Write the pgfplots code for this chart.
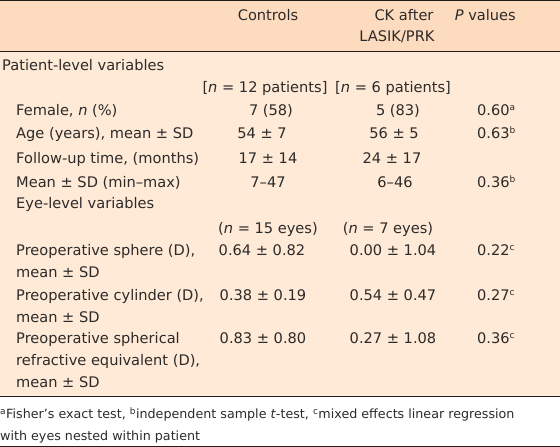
\documentclass[border=0pt]{standalone}
\usepackage{pgfplots}
\pgfplotsset{compat=1.18}
\usepackage{fontspec}
\setmainfont{DejaVu Sans}
\definecolor{headbg}{RGB}{253,219,190}
\definecolor{bodybg}{RGB}{254,234,214}
\definecolor{rulec}{RGB}{35,28,28}
\definecolor{txt}{RGB}{45,42,42}
\newcommand{\sq}[1]{\textsuperscript{\fontsize{9}{9}\selectfont #1}}
\tikzset{t/.style={inner sep=0pt, yshift=-3pt, text=txt, font=\fontsize{14.6}{17}\selectfont},
         f/.style={inner sep=0pt, yshift=-3pt, text=txt, font=\fontsize{12.7}{15}\selectfont}}
\begin{document}
\begin{tikzpicture}
\begin{axis}[
  scale only axis, width=560pt, height=447pt,
  xmin=0, xmax=560, ymin=0, ymax=447, y dir=reverse,
  hide axis,
]
% backgrounds
\addplot[fill=white, draw=none] coordinates {(0,0)(560,0)(560,447)(0,447)} -- cycle;
\addplot[fill=headbg, draw=none] coordinates {(0,0)(560,0)(560,51)(0,51)} -- cycle;
\addplot[fill=bodybg, draw=none] coordinates {(0,51)(560,51)(560,396)(0,396)} -- cycle;
% rules
\addplot[draw=rulec, line width=1.3pt] coordinates {(0,0.7)(560,0.7)};
\addplot[draw=rulec, line width=1.0pt] coordinates {(0,51)(560,51)};
\addplot[draw=rulec, line width=1.0pt] coordinates {(0,396)(560,396)};
\addplot[draw=rulec, line width=1.0pt] coordinates {(0,446)(560,446)};
% header
\node[t,anchor=mid] at (axis cs:268,15) {Controls};
\node[t,anchor=mid] at (axis cs:404,15) {CK after};
\node[t,anchor=mid] at (axis cs:397,36) {LASIK/PRK};
\node[t,anchor=mid east] at (axis cs:516,15) {\textit{P} values};
% patient-level
\node[t,anchor=mid west] at (axis cs:2,65) {Patient-level variables};
\node[t,anchor=mid] at (axis cs:265,87) {[\textit{n} = 12 patients]};
\node[t,anchor=mid] at (axis cs:393,87) {[\textit{n} = 6 patients]};
\node[t,anchor=mid west] at (axis cs:16,110) {Female, \textit{n} (\%)};
\node[t,anchor=mid] at (axis cs:271,110) {7 (58)};
\node[t,anchor=mid] at (axis cs:398,110) {5 (83)};
\node[t,anchor=mid west] at (axis cs:477,110) {0.60\sq{a}};
\node[t,anchor=mid west] at (axis cs:16,133) {Age (years), mean ± SD};
\node[t,anchor=mid] at (axis cs:262,133) {54 ± 7};
\node[t,anchor=mid] at (axis cs:394,133) {56 ± 5};
\node[t,anchor=mid west] at (axis cs:477,133) {0.63\sq{b}};
\node[t,anchor=mid west] at (axis cs:16,158) {Follow-up time, (months)};
\node[t,anchor=mid] at (axis cs:268,158) {17 ± 14};
\node[t,anchor=mid] at (axis cs:392,158) {24 ± 17};
\node[t,anchor=mid west] at (axis cs:16,182) {Mean ± SD (min–max)};
\node[t,anchor=mid] at (axis cs:268,182) {7–47};
\node[t,anchor=mid] at (axis cs:395,182) {6–46};
\node[t,anchor=mid west] at (axis cs:477,182) {0.36\sq{b}};
% eye-level
\node[t,anchor=mid west] at (axis cs:16,203) {Eye-level variables};
\node[t,anchor=mid] at (axis cs:268,228) {(\textit{n} = 15 eyes)};
\node[t,anchor=mid] at (axis cs:388,228) {(\textit{n} = 7 eyes)};
\node[t,anchor=mid west] at (axis cs:16,250) {Preoperative sphere (D),};
\node[t,anchor=mid west] at (axis cs:16,272) {mean ± SD};
\node[t,anchor=mid] at (axis cs:262,250) {0.64 ± 0.82};
\node[t,anchor=mid] at (axis cs:393,250) {0.00 ± 1.04};
\node[t,anchor=mid west] at (axis cs:477,250) {0.22\sq{c}};
\node[t,anchor=mid west] at (axis cs:16,295) {Preoperative cylinder (D),};
\node[t,anchor=mid west] at (axis cs:16,317) {mean ± SD};
\node[t,anchor=mid] at (axis cs:263,295) {0.38 ± 0.19};
\node[t,anchor=mid] at (axis cs:393,295) {0.54 ± 0.47};
\node[t,anchor=mid west] at (axis cs:477,295) {0.27\sq{c}};
\node[t,anchor=mid west] at (axis cs:16,338) {Preoperative spherical};
\node[t,anchor=mid west] at (axis cs:16,360) {refractive equivalent (D),};
\node[t,anchor=mid west] at (axis cs:16,382) {mean ± SD};
\node[t,anchor=mid] at (axis cs:263,338) {0.83 ± 0.80};
\node[t,anchor=mid] at (axis cs:393,338) {0.27 ± 1.08};
\node[t,anchor=mid west] at (axis cs:477,338) {0.36\sq{c}};
% footnote
\node[f,anchor=mid west] at (axis cs:0,413) {\sq{a}Fisher’s exact test, \sq{b}independent sample \textit{t}-test, \sq{c}mixed effects linear regression};
\node[f,anchor=mid west] at (axis cs:0,435) {with eyes nested within patient};
\end{axis}
\end{tikzpicture}
\end{document}
